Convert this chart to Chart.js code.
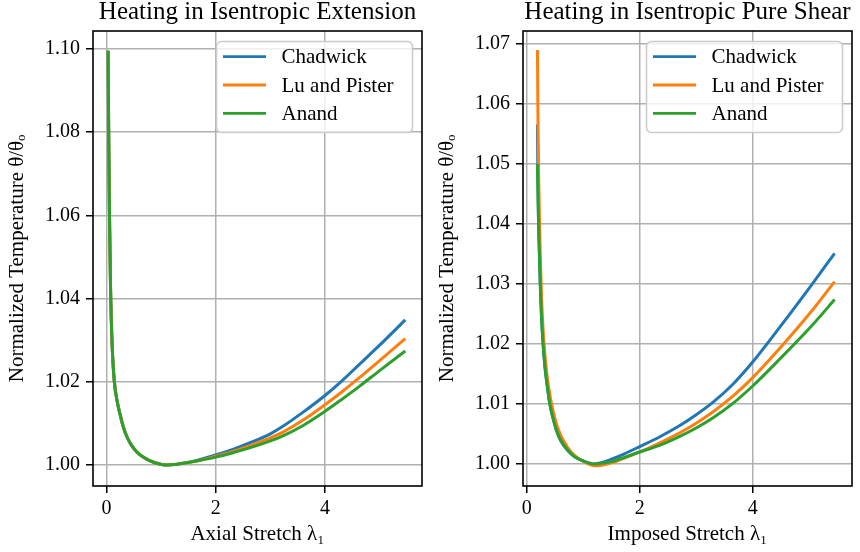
<!DOCTYPE html>
<html>
<head>
<meta charset="utf-8">
<script src="https://cdn.jsdelivr.net/npm/chart.js@4.4.9/dist/chart.umd.min.js"></script>
<style>
  html, body { margin: 0; padding: 0; background: #fff; }
  #wrap { position: relative; width: 860px; height: 552px; }
  canvas { position: absolute; top: 0; }
  #extChart { left: 0; }
  #shearChart { left: 430px; }
</style>
</head>
<body>
<div id="wrap">
  <canvas id="extChart" width="430" height="552"></canvas>
  <canvas id="shearChart" width="430" height="552"></canvas>
</div>
<script>
// 모델 이름 / 색상
const modelNames = ['Chadwick', 'Lu and Pister', 'Anand'];
const modelColors = ['#1f77b4', '#ff7f0e', '#2ca02c'];

// 왼쪽: 등엔트로피 인장
const extStretch   = [0.03, 0.04, 0.055, 0.075, 0.1, 0.14, 0.2, 0.25, 0.3, 0.37, 0.45, 0.55, 0.65, 0.8, 0.95, 1.1, 1.25, 1.4, 1.7, 2.0, 2.3, 2.62, 3.0, 3.23, 3.6, 4.0, 4.3, 4.63, 5.0, 5.47];
const extChadwick  = [1.0996, 1.080, 1.060, 1.042, 1.030, 1.0205, 1.0150, 1.0121, 1.0095, 1.0069, 1.0049, 1.0032, 1.0021, 1.0010, 1.0003, 1.0000, 1.0001, 1.0004, 1.0013, 1.0024, 1.0037, 1.0053, 1.0075, 1.0093, 1.0127, 1.0167, 1.0201, 1.0242, 1.0288, 1.0349];
const extLuPister  = [1.0996, 1.080, 1.060, 1.042, 1.030, 1.0205, 1.0150, 1.0121, 1.0095, 1.0069, 1.0049, 1.0032, 1.0021, 1.0010, 1.0003, 1.0000, 1.0001, 1.0004, 1.0011, 1.0021, 1.0032, 1.0046, 1.0065, 1.0079, 1.0108, 1.0145, 1.0175, 1.0210, 1.0251, 1.0304];
const extAnand     = [1.0996, 1.080, 1.060, 1.042, 1.030, 1.0205, 1.0150, 1.0121, 1.0095, 1.0069, 1.0049, 1.0032, 1.0021, 1.0010, 1.0003, 1.0000, 1.0001, 1.0004, 1.0011, 1.0019, 1.0029, 1.0041, 1.0058, 1.0070, 1.0095, 1.0129, 1.0157, 1.0189, 1.0227, 1.0274];
const extXTicks = [0, 2, 4];
const extYTicks = [1.00, 1.02, 1.04, 1.06, 1.08, 1.10];

// 오른쪽: 등엔트로피 순수전단
const shearStretch  = [0.19, 0.2, 0.21, 0.225, 0.24, 0.26, 0.29, 0.32, 0.35, 0.41, 0.47, 0.525, 0.6, 0.73, 0.85, 1.03, 1.2, 1.32, 1.5, 1.73, 2.0, 2.35, 2.71, 3.0, 3.3, 3.65, 4.0, 4.48, 5.07, 5.45];
const shearChadwick = [1.0566, 1.046, 1.040, 1.035, 1.030, 1.025, 1.020, 1.0165, 1.014, 1.010, 1.0075, 1.0056, 1.0039, 1.0022, 1.0012, 1.0004, 1.0000, 1.0002, 1.0008, 1.0017, 1.0029, 1.0045, 1.0064, 1.0082, 1.0103, 1.0133, 1.0170, 1.0228, 1.0302, 1.0351];
const shearLuPister = [1.069, 1.057, 1.049, 1.041, 1.035, 1.0285, 1.0225, 1.0185, 1.0155, 1.0115, 1.0087, 1.0067, 1.0048, 1.0027, 1.0014, 1.0003, 0.9997, 0.9998, 1.0002, 1.0010, 1.0020, 1.0035, 1.0052, 1.0068, 1.0087, 1.0113, 1.0144, 1.0193, 1.0258, 1.0304];
const shearAnand    = [1.050, 1.045, 1.040, 1.035, 1.030, 1.025, 1.020, 1.0165, 1.014, 1.010, 1.0075, 1.0057, 1.0040, 1.0023, 1.0012, 1.0004, 1.0000, 1.0001, 1.0004, 1.0011, 1.0020, 1.0031, 1.0046, 1.0060, 1.0077, 1.0101, 1.0130, 1.0175, 1.0233, 1.0274];
const shearXTicks = [0, 2, 4];
const shearYTicks = [1.00, 1.01, 1.02, 1.03, 1.04, 1.05, 1.06, 1.07];

const FONT = "'Liberation Serif', 'DejaVu Serif', serif";

// 축 테두리 + 범례 박스 (matplotlib 스타일)
const frameLegend = {
    id: 'frameLegend',
    afterDatasetsDraw(chart) {
        const { ctx, chartArea: a } = chart;
        ctx.save();
        ctx.strokeStyle = '#000';
        ctx.lineWidth = 1.6;
        ctx.strokeRect(a.left, a.top, a.right - a.left, a.bottom - a.top);

        // 범례
        const bx = 216.5, by = 41.5, bw = 196, bh = 91, r = 5;
        ctx.beginPath();
        ctx.roundRect(bx, by, bw, bh, r);
        ctx.fillStyle = 'rgba(255,255,255,0.8)';
        ctx.fill();
        ctx.strokeStyle = '#cccccc';
        ctx.lineWidth = 1.6;
        ctx.stroke();

        ctx.font = `21px ${FONT}`;
        ctx.textBaseline = 'middle';
        ctx.textAlign = 'left';
        chart.data.datasets.forEach((ds, i) => {
            const y = 56.7 + i * 28.3;
            ctx.beginPath();
            ctx.moveTo(223, y);
            ctx.lineTo(266, y);
            ctx.strokeStyle = ds.borderColor;
            ctx.lineWidth = 2.8;
            ctx.stroke();
            ctx.fillStyle = '#000';
            ctx.fillText(ds.label, 281.5, y + 1);
        });
        ctx.restore();
    }
};

function makeSeries(xs, ys) {
    return xs.map((x, i) => ({ x: x, y: ys[i] }));
}

function makeChart(canvasId, cfg) {
    const series = [cfg.chadwick, cfg.luPister, cfg.anand];
    const datasets = series.map((ys, i) => ({
        label: modelNames[i],
        data: makeSeries(cfg.stretch, ys),
        borderColor: modelColors[i],
        backgroundColor: modelColors[i],
        borderWidth: 3,
        pointRadius: 0,
        cubicInterpolationMode: 'monotone',
        order: 2 - i   // Anand이 맨 위에 그려지도록
    }));

    const ctx = document.getElementById(canvasId).getContext('2d');
    new Chart(ctx, {
        type: 'line',
        data: { datasets },
        options: {
            responsive: false,
            animation: false,
            layout: { padding: { top: 0, right: 8, bottom: 0, left: 0 } },
            plugins: {
                legend: { display: false },
                tooltip: { enabled: false },
                title: {
                    display: true,
                    text: cfg.title,
                    fullSize: false,
                    color: '#000',
                    font: { family: FONT, size: 25, weight: 'normal', lineHeight: 1 },
                    padding: { top: 0, bottom: 6 }
                }
            },
            scales: {
                x: {
                    type: 'linear',
                    min: cfg.xMin,
                    max: cfg.xMax,
                    afterFit: s => { s.height = 66; },
                    afterBuildTicks: s => { s.ticks = cfg.xTicks.map(v => ({ value: v })); },
                    grid: { color: '#b0b0b0', lineWidth: 1.5, tickColor: '#000', tickWidth: 1.5, tickLength: 7 },
                    border: { display: false },
                    ticks: {
                        color: '#000',
                        padding: 4,
                        font: { family: FONT, size: 20 },
                        callback: v => String(v)
                    },
                    title: {
                        display: true,
                        text: cfg.xLabel,
                        color: '#000',
                        font: { family: FONT, size: 21 },
                        padding: { top: 0, bottom: 5 }
                    }
                },
                y: {
                    type: 'linear',
                    min: cfg.yMin,
                    max: cfg.yMax,
                    afterFit: s => { s.width = 93; },
                    afterBuildTicks: s => { s.ticks = cfg.yTicks.map(v => ({ value: v })); },
                    grid: { color: '#b0b0b0', lineWidth: 1.5, tickColor: '#000', tickWidth: 1.5, tickLength: 7 },
                    border: { display: false },
                    ticks: {
                        color: '#000',
                        padding: 6,
                        font: { family: FONT, size: 20 },
                        callback: v => v.toFixed(2)
                    },
                    title: {
                        display: true,
                        text: 'Normalized Temperature θ/θₒ',
                        color: '#000',
                        font: { family: FONT, size: 21 },
                        padding: { top: 5, bottom: 0 }
                    }
                }
            }
        },
        plugins: [frameLegend]
    });
}

makeChart('extChart', {
    title: 'Heating in Isentropic Extension',
    xLabel: 'Axial Stretch λ₁',
    stretch: extStretch,
    chadwick: extChadwick,
    luPister: extLuPister,
    anand: extAnand,
    xTicks: extXTicks,
    yTicks: extYTicks,
    xMin: -0.247, xMax: 5.776,
    yMin: 0.99495, yMax: 1.10433
});

makeChart('shearChart', {
    title: 'Heating in Isentropic Pure Shear',
    xLabel: 'Imposed Stretch λ₁',
    stretch: shearStretch,
    chadwick: shearChadwick,
    luPister: shearLuPister,
    anand: shearAnand,
    xTicks: shearXTicks,
    yTicks: shearYTicks,
    xMin: -0.0655, xMax: 5.758,
    yMin: 0.99633, yMax: 1.07217
});
</script>
</body>
</html>
